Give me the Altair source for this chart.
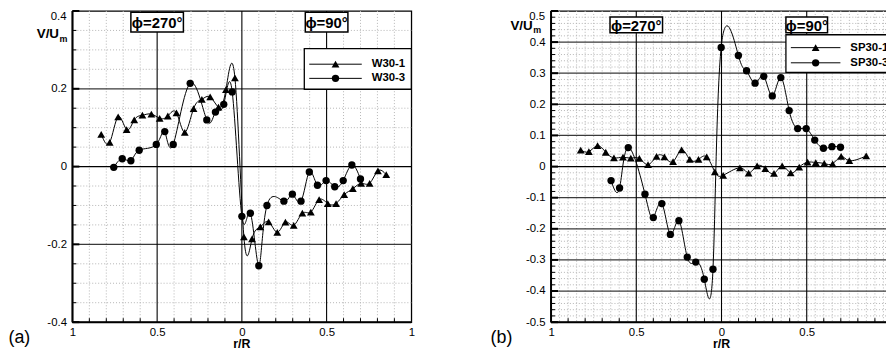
import altair as alt
import pandas as pd

FONT = "Liberation Sans"

# ---------------- panel (a) data ----------------
A_W301_X = [-0.830, -0.780, -0.730, -0.680, -0.635, -0.587, -0.534, -0.485, -0.437, -0.386,
            -0.337, -0.285, -0.236, -0.187, -0.138, -0.094, -0.041, 0.012, 0.060, 0.109,
            0.158, 0.209, 0.257, 0.306, 0.357, 0.407, 0.456, 0.507, 0.556, 0.604,
            0.655, 0.704, 0.754, 0.803, 0.852]
A_W301_Y = [0.083, 0.062, 0.128, 0.095, 0.120, 0.132, 0.135, 0.124, 0.130, 0.138,
            0.088, 0.149, 0.173, 0.179, 0.153, 0.198, 0.228, -0.181, -0.186, -0.155,
            -0.142, -0.169, -0.143, -0.151, -0.120, -0.117, -0.085, -0.095, -0.095, -0.072,
            -0.057, -0.043, -0.043, -0.011, -0.021]
A_W303_X = [-0.756, -0.706, -0.655, -0.606, -0.505, -0.455, -0.405, -0.305, -0.207, -0.156,
            -0.107, -0.057, 0.000, 0.050, 0.100, 0.148, 0.248, 0.298, 0.349, 0.398,
            0.446, 0.497, 0.548, 0.598, 0.649, 0.700]
A_W303_Y = [-0.002, 0.020, 0.015, 0.042, 0.057, 0.090, 0.057, 0.214, 0.120, 0.140,
            0.160, 0.192, -0.128, -0.120, -0.255, -0.100, -0.089, -0.071, -0.089, -0.014,
            -0.048, -0.036, -0.052, -0.036, 0.004, -0.032]

# ---------------- panel (b) data ----------------
B_SP301_X = [-0.826, -0.778, -0.727, -0.679, -0.631, -0.578, -0.532, -0.482, -0.431, -0.381,
             -0.335, -0.284, -0.234, -0.186, -0.135, -0.087, -0.039, 0.010, 0.108, 0.159,
             0.209, 0.257, 0.308, 0.356, 0.406, 0.456, 0.505, 0.553, 0.603, 0.652,
             0.702, 0.750, 0.849]
B_SP301_Y = [0.053, 0.048, 0.067, 0.046, 0.028, 0.030, 0.027, 0.026, 0.006, 0.033,
             0.031, 0.016, 0.054, 0.023, 0.023, 0.031, -0.017, -0.028, -0.004, -0.021,
             0.002, -0.007, -0.022, 0.002, -0.020, -0.002, 0.014, 0.013, 0.010, 0.009,
             0.033, 0.019, 0.034]
B_SP303_X = [-0.648, -0.598, -0.547, -0.449, -0.400, -0.350, -0.300, -0.250, -0.201, -0.151,
             -0.101, -0.050, -0.002, 0.099, 0.147, 0.197, 0.248, 0.298, 0.348, 0.397,
             0.447, 0.497, 0.547, 0.598, 0.648, 0.698]
B_SP303_Y = [-0.045, -0.069, 0.061, -0.089, -0.164, -0.119, -0.218, -0.174, -0.291, -0.307,
             -0.362, -0.330, 0.383, 0.357, 0.308, 0.268, 0.290, 0.227, 0.286, 0.180,
             0.122, 0.122, 0.085, 0.059, 0.064, 0.062]

# ---------------- axes / labels ----------------
X_LABELS = [-1, -0.5, 0, 0.5, 1]
X_MAJOR = [-0.5, 0, 0.5]
X_TICKS = [-0.9, -0.8, -0.7, -0.6, -0.4, -0.3, -0.2, -0.1, 0.1, 0.2, 0.3, 0.4, 0.6, 0.7, 0.8, 0.9]
A_X_MINOR = X_TICKS
B_X_MINOR = [-0.95, -0.9, -0.85, -0.8, -0.75, -0.7, -0.65, -0.6, -0.55, -0.45, -0.4, -0.35, -0.3,
             -0.25, -0.2, -0.15, -0.1, -0.05, 0.05, 0.1, 0.15, 0.2, 0.25, 0.3, 0.35, 0.4, 0.45,
             0.55, 0.6, 0.65, 0.7, 0.75, 0.8, 0.85, 0.9, 0.95]

A_Y_LABELS = [-0.4, -0.2, 0, 0.2, 0.4]
A_Y_MAJOR = [-0.2, 0.2]
A_Y_MINOR = [-0.35, -0.3, -0.25, -0.15, -0.1, -0.05, 0.05, 0.1, 0.15, 0.25, 0.3, 0.35]

B_Y_LABELS = [-0.5, -0.4, -0.3, -0.2, -0.1, 0, 0.1, 0.2, 0.3, 0.4, 0.5]
B_Y_MAJOR = [-0.4, -0.3, -0.2, -0.1, 0.1, 0.2, 0.3, 0.4]
B_Y_MINOR = [round(-0.5 + 0.02 * i, 2) for i in range(1, 50) if i % 5 != 0]

PHI_X = [-0.5, 0.5]
PHI_TEXT = ["ϕ=270°", "ϕ=90°"]


def frame(vals, name="v"):
    return pd.DataFrame({name: vals})


def panel(W, H, ydom, series, names, y_labels, y_major, y_minor, x_minor, y_tick_minor,
          legend_box, legend_rows, legend_line, legend_text_x, phi_yc, phi_h, phi_w,
          vu, tag, tag_x):
    xs = alt.Scale(domain=[-1, 1], nice=False, zero=False)
    ys = alt.Scale(domain=ydom, nice=False, zero=False)
    xaxis = alt.Axis(values=X_LABELS, labelExpr="'' + abs(datum.value)", ticks=False,
                     tickSize=0, domain=False, grid=False, labelFlush=False, labelPadding=4,
                     labelFontSize=11.5, labelFont=FONT, labelColor="black", title=None)
    # the top label is drawn as a text mark just inside the page edge
    yaxis = alt.Axis(values=y_labels[:-1], labelExpr="'' + datum.value", ticks=False,
                     tickSize=0, domain=False, grid=False, labelFlush=False, labelPadding=6,
                     labelFontSize=11.5, labelFont=FONT, labelColor="black", title=None)

    def X(f):
        return alt.X(f, type="quantitative", scale=xs, axis=xaxis)

    def Y(f):
        return alt.Y(f, type="quantitative", scale=ys, axis=yaxis)

    layers = []
    # minor dotted grid
    layers.append(alt.Chart(frame(x_minor)).mark_rule(color="#b5b5b5", strokeWidth=1,
                  strokeDash=[1, 2]).encode(x=X("v")))
    layers.append(alt.Chart(frame(y_minor)).mark_rule(color="#b5b5b5", strokeWidth=1,
                  strokeDash=[1, 2]).encode(y=Y("v")))
    # major grid
    layers.append(alt.Chart(frame(y_major)).mark_rule(color="#3a3a3a", strokeWidth=1.3)
                  .encode(y=Y("v")))
    layers.append(alt.Chart(frame([0])).mark_rule(color="black", strokeWidth=1.2)
                  .encode(y=Y("v")))
    layers.append(alt.Chart(frame(X_MAJOR)).mark_rule(color="black", strokeWidth=1.1)
                  .encode(x=X("v")))
    # inward ticks
    layers.append(alt.Chart(frame(y_labels)).mark_rule(color="black", strokeWidth=2)
                  .encode(y=Y("v"), x=alt.value(0), x2=alt.value(7)))
    layers.append(alt.Chart(frame(y_tick_minor)).mark_rule(color="black", strokeWidth=1)
                  .encode(y=Y("v"), x=alt.value(0), x2=alt.value(4)))
    layers.append(alt.Chart(frame(X_TICKS)).mark_rule(color="black", strokeWidth=1)
                  .encode(x=X("v"), y=alt.value(H), y2=alt.value(H - 4)))
    # thick left / bottom axis lines
    layers.append(alt.Chart(frame([0])).mark_rule(color="black", strokeWidth=2)
                  .encode(x=alt.value(0), y=alt.value(0), y2=alt.value(H)))
    layers.append(alt.Chart(frame([0])).mark_rule(color="black", strokeWidth=2)
                  .encode(y=alt.value(H), x=alt.value(0), x2=alt.value(W)))

    shapes = ["triangle-up", "circle"]
    sizes = [62, 55]
    for (sx, sy), shp, sz in zip(series, shapes, sizes):
        df = pd.DataFrame({"x": sx, "y": sy})
        layers.append(alt.Chart(df).mark_line(interpolate="natural", color="black",
                      strokeWidth=1).encode(x=X("x"), y=Y("y")))
        layers.append(alt.Chart(df).mark_point(shape=shp, filled=True, color="black",
                      opacity=1, size=sz).encode(x=X("x"), y=Y("y")))

    # legend
    x0, y0, x1, y1 = legend_box
    layers.append(alt.Chart(frame([0])).mark_rect(fill="white", stroke="black",
                  strokeWidth=1.3).encode(x=alt.value(x0), x2=alt.value(x1),
                                          y=alt.value(y0), y2=alt.value(y1)))
    lx0, lx1 = legend_line
    for ry, shp, sz, nm in zip(legend_rows, shapes, sizes, names):
        layers.append(alt.Chart(frame([0])).mark_rule(color="black", strokeWidth=1)
                      .encode(x=alt.value(lx0), x2=alt.value(lx1), y=alt.value(ry)))
        layers.append(alt.Chart(frame([0])).mark_point(shape=shp, filled=True,
                      color="black", opacity=1, size=sz)
                      .encode(x=alt.value((lx0 + lx1) / 2), y=alt.value(ry)))
        layers.append(alt.Chart(frame([0])).mark_text(text=nm, align="left",
                      baseline="middle", font=FONT, fontSize=11.5, fontWeight="bold",
                      color="black").encode(x=alt.value(legend_text_x), y=alt.value(ry)))

    # phi boxes
    for px, pt, pw in zip(PHI_X, PHI_TEXT, phi_w):
        r = phi_h / pw
        path = f"M-1,{-r}L1,{-r}L1,{r}L-1,{r}Z"
        layers.append(alt.Chart(frame([px])).mark_point(shape=path, size=pw * pw,
                      filled=True, fill="white", stroke="black", strokeWidth=1.5,
                      opacity=1).encode(x=X("v"), y=alt.value(phi_yc)))
        layers.append(alt.Chart(frame([px])).mark_text(text=pt, align="center",
                      baseline="middle", font=FONT, fontSize=15, fontWeight="bold",
                      color="black", dy=1).encode(x=X("v"), y=alt.value(phi_yc)))

    # top y label, V/U_m label, r/R, tag
    layers.append(alt.Chart(frame([0])).mark_text(text=str(y_labels[-1]), align="right",
                  baseline="top", font=FONT, fontSize=11.5, color="black")
                  .encode(x=alt.value(-6), y=alt.value(0)))
    vx, vy = vu
    layers.append(alt.Chart(frame([0])).mark_text(text="V/U", align="left",
                  baseline="alphabetic", font=FONT, fontSize=13.5, fontWeight="bold",
                  color="black").encode(x=alt.value(vx), y=alt.value(vy)))
    layers.append(alt.Chart(frame([0])).mark_text(text="m", align="left",
                  baseline="alphabetic", font=FONT, fontSize=9, fontWeight="bold",
                  color="black").encode(x=alt.value(vx + 23), y=alt.value(vy + 4)))
    layers.append(alt.Chart(frame([0])).mark_text(text="r/R", align="center",
                  baseline="alphabetic", font=FONT, fontSize=12.5, fontWeight="bold",
                  color="black").encode(x=alt.value(W / 2), y=alt.value(H + 26)))
    layers.append(alt.Chart(frame([0])).mark_text(text=tag, align="left",
                  baseline="alphabetic", font=FONT, fontSize=18, color="black")
                  .encode(x=alt.value(tag_x), y=alt.value(H + 21)))

    return alt.layer(*layers).properties(width=W, height=H)


WA, HA = 342, 314
WB, HB = 344, 314

pa = panel(WA, HA, [-0.4, 0.4],
           [(A_W301_X, A_W301_Y), (A_W303_X, A_W303_Y)], ["W30-1", "W30-3"],
           A_Y_LABELS, A_Y_MAJOR, A_Y_MINOR, A_X_MINOR, A_Y_MINOR,
           legend_box=(234, 38, 342, 79), legend_rows=[53.7, 68], legend_line=(239, 292),
           legend_text_x=302, phi_yc=11.3, phi_h=20, phi_w=[53, 43],
           vu=(-36, 27), tag="(a)", tag_x=-64.5)

pb = panel(WB, HB, [-0.5, 0.5],
           [(B_SP301_X, B_SP301_Y), (B_SP303_X, B_SP303_Y)], ["SP30-1", "SP30-3"],
           B_Y_LABELS, B_Y_MAJOR, B_Y_MINOR, B_X_MINOR, B_Y_MINOR,
           legend_box=(237, 24, 360, 62), legend_rows=[37, 52.3], legend_line=(242, 292),
           legend_text_x=302, phi_yc=14, phi_h=16, phi_w=[53, 42],
           vu=(-41, 18.7), tag="(b)", tag_x=-61)

chart = alt.hconcat(pa, pb, spacing=141, bounds="flush").configure_view(
    stroke="black", strokeWidth=1.3
).properties(
    autosize=alt.AutoSizeParams(type="none"),
    padding={"left": 65, "top": 0, "right": 821, "bottom": 346},
    background="white",
)

chart.save("out.html", embed_options={"renderer": "svg", "actions": False})
